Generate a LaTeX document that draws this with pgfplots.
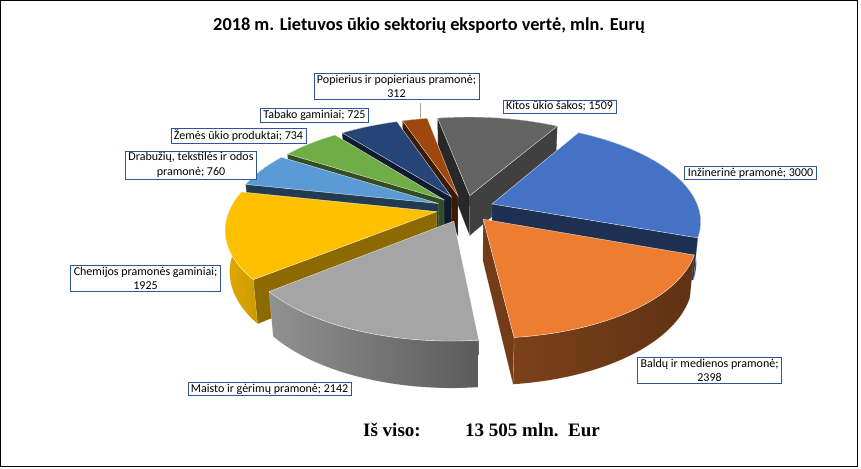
\documentclass[border=0pt]{standalone}
\usepackage{pgfplots}
\pgfplotsset{compat=1.18}
\usepackage{fontspec}
\setmainfont{Carlito}
\newfontfamily\timesf{Liberation Serif}

\definecolor{cInz}{HTML}{4472C4}
\definecolor{cBal}{HTML}{ED7D31}
\definecolor{cMai}{HTML}{A5A5A5}
\definecolor{cChe}{HTML}{FFC000}
\definecolor{cDra}{HTML}{5B9BD5}
\definecolor{cZem}{HTML}{70AD47}
\definecolor{cTab}{HTML}{264478}
\definecolor{cPop}{HTML}{9E480E}
\definecolor{cKit}{HTML}{636363}
\definecolor{cBox}{HTML}{2F5597}

% data (mln. Eur)
\def\vInz{3000}\def\vBal{2398}\def\vMai{2142}\def\vChe{1925}
\def\vDra{760}\def\vZem{734}\def\vTab{725}\def\vPop{312}\def\vKit{1509}

% projection constants
\def\pF{1140}\def\pXs{0.98}\def\pD{5.404}\def\pS{0.4526}\def\pC{0.8917}\def\pH{0.221}
\def\pE{0.14}\def\pCX{465}\def\pCY{259.5}\def\camv{-4.819}

\tikzset{declare function={
  pz(\gu,\gv,\gz)=\pD+\gv*\pC-\gz*\pS;
  px(\gu,\gv,\gz)=\pCX+\pXs*\pF*\gu/pz(\gu,\gv,\gz);
  py(\gu,\gv,\gz)=\pCY+\pF*(\gv*\pS+\gz*\pC)/pz(\gu,\gv,\gz);
  bth(\gk,\ga,\gb)=(\gk<40.5)?(\gb+\gk*(\ga-\gb)/40):(\ga-(\gk-41)*(\ga-\gb)/40);
  bz(\gk)=(\gk<40.5)?0:(0-\pH);
  tth(\gk,\ga,\gb)=\gb+min(\gk,40)*(\ga-\gb)/40;
  tr(\gk)=(\gk<40.5)?1:0;
  fr(\gk)=(abs(\gk-1.5)<1)?1:0;
  fz(\gk)=(\gk>1.5)?(0-\pH):0;
},
lbl/.style={draw=cBox, fill=white, line width=0.6pt, inner xsep=3pt, inner ysep=1.5pt,
    align=center, font=\fontsize{12}{14.5}\selectfont, text=black}}

% #1 a (ccw end) #2 b (ccw start) #3 top colour #4 band style #5 face-b colour #6 face-a colour
\newcommand\slice[6]{%
  \pgfmathsetmacro\sm{(#1+#2)/2}%
  \pgfmathsetmacro\ox{\pE*cos(\sm)}%
  \pgfmathsetmacro\oy{\pE*sin(\sm)}%
  \pgfmathtruncatemacro\visb{((0-(\ox))*sin(#2)-(\camv-(\oy))*cos(#2))>0}%
  \pgfmathtruncatemacro\visa{((\ox)*sin(#1)+(\camv-(\oy))*cos(#1))>0}%
  \edef\doit{\noexpand\addplot[#4,draw=white,draw opacity=0.35,line width=0.3pt,domain=0:81,samples=82]
    ({px(\ox+cos(bth(x,#1,#2)),\oy+sin(bth(x,#1,#2)),bz(x))},{py(\ox+cos(bth(x,#1,#2)),\oy+sin(bth(x,#1,#2)),bz(x))}) -- cycle;}\doit
  \ifnum\visb=1 \edef\doit{\noexpand\addplot[fill=#5,draw=white,draw opacity=0.35,line width=0.3pt,domain=0:3,samples=4]
    ({px(\ox+fr(x)*cos(#2),\oy+fr(x)*sin(#2),fz(x))},{py(\ox+fr(x)*cos(#2),\oy+fr(x)*sin(#2),fz(x))}) -- cycle;}\doit\fi
  \ifnum\visa=1 \edef\doit{\noexpand\addplot[fill=#6,draw=white,draw opacity=0.35,line width=0.3pt,domain=0:3,samples=4]
    ({px(\ox+fr(x)*cos(#1),\oy+fr(x)*sin(#1),fz(x))},{py(\ox+fr(x)*cos(#1),\oy+fr(x)*sin(#1),fz(x))}) -- cycle;}\doit\fi
  \edef\doit{\noexpand\addplot[fill=#3,draw=white,draw opacity=0.75,line width=0.4pt,domain=0:41,samples=42]
    ({px(\ox+tr(x)*cos(tth(x,#1,#2)),\oy+tr(x)*sin(tth(x,#1,#2)),0)},{py(\ox+tr(x)*cos(tth(x,#1,#2)),\oy+tr(x)*sin(tth(x,#1,#2)),0)}) -- cycle;}\doit
}

\begin{document}
\begin{tikzpicture}
\begin{axis}[
  scale only axis, width=861pt, height=468pt,
  xmin=0, xmax=861, ymin=0, ymax=468,
  hide axis, clip=false,
]
% angles (clockwise from 60 deg)
\pgfmathsetmacro\tot{\vInz+\vBal+\vMai+\vChe+\vDra+\vZem+\vTab+\vPop+\vKit}
\pgfmathsetmacro\kk{360/\tot}
\pgfmathsetmacro\aInz{60}
\pgfmathsetmacro\bInz{\aInz-\vInz*\kk}
\pgfmathsetmacro\bBal{\bInz-\vBal*\kk}
\pgfmathsetmacro\bMai{\bBal-\vMai*\kk}
\pgfmathsetmacro\bChe{\bMai-\vChe*\kk}
\pgfmathsetmacro\bDra{\bChe-\vDra*\kk}
\pgfmathsetmacro\bZem{\bDra-\vZem*\kk}
\pgfmathsetmacro\bTab{\bZem-\vTab*\kk}
\pgfmathsetmacro\bPop{\bTab-\vPop*\kk}
\pgfmathsetmacro\bKit{\bPop-\vKit*\kk}

% back to front
\slice{\bPop}{\bKit}{cKit}{fill=cKit!60!black}{cKit!65!black}{cKit!40!black}
\slice{\bTab}{\bPop}{cPop}{fill=cPop!50!black}{cPop!50!black}{cPop!38!black}
\slice{\bZem}{\bTab}{cTab}{fill=cTab!50!black}{cTab!50!black}{cTab!40!black}
\slice{\bDra}{\bZem}{cZem}{fill=cZem!50!black}{cZem!50!black}{cZem!45!black}
\slice{\bChe}{\bDra}{cDra}{fill=cDra!50!black}{cDra!50!black}{cDra!38!black}
\slice{\aInz}{\bInz}{cInz}{fill=cInz!70!black}{cInz!42!black}{cInz!42!black}
\slice{\bMai}{\bChe}{cChe}{left color=cChe!88!black,right color=cChe!80!black}{cChe!55!black}{cChe!55!black}
\slice{\bInz}{\bBal}{cBal}{left color=cBal!52!black,right color=cBal!40!black}{cBal!48!black}{cBal!48!black}
\slice{\bBal}{\bMai}{cMai}{left color=cMai!88!black,right color=cMai!55!black}{cMai!60!black}{cMai!60!black}

% leader line
\addplot[gray!70, line width=0.6pt] coordinates {(420,350) (420,365)};

% labels
\node[lbl] at (axis cs:396.5,381.5) {Popierius ir popieriaus pramonė;\\312};
\node[lbl] at (axis cs:314.5,352.5) {Tabako gaminiai; 725};
\node[lbl] at (axis cs:238.5,332) {Žemės ūkio produktai; 734};
\node[lbl] at (axis cs:191,303) {Drabužių, tekstilės ir odos\\pramonė; 760};
\node[lbl] at (axis cs:559.5,361.5) {Kitos ūkio šakos; 1509};
\node[lbl] at (axis cs:750.5,295) {Inžinerinė pramonė; 3000};
\node[lbl] at (axis cs:145.5,189.5) {Chemijos pramonės gaminiai;\\1925};
\node[lbl] at (axis cs:269.5,79) {Maisto ir gėrimų pramonė; 2142};
\node[lbl] at (axis cs:709.5,97.5) {Baldų ir medienos pramonė;\\2398};

% title and total
\node[anchor=base, inner sep=0pt, font=\bfseries\fontsize{18.3}{22}\selectfont] at (axis cs:429,437) {2018 m. Lietuvos ūkio sektorių eksporto vertė, mln. Eurų};
\node[anchor=base west, font=\timesf\bfseries\fontsize{19}{22}\selectfont, inner sep=0pt] at (axis cs:363,31) {Iš viso:};
\node[anchor=base west, font=\timesf\bfseries\fontsize{19}{22}\selectfont, inner sep=0pt] at (axis cs:465,31) {13 505 mln.\ \ Eur};

% frame
\draw[black, line width=1pt] (axis cs:0.5,1.5) rectangle (axis cs:857,467.5);
\end{axis}
\pgfresetboundingbox
\useasboundingbox (0,0) rectangle (861pt,468pt);
\end{tikzpicture}
\end{document}
